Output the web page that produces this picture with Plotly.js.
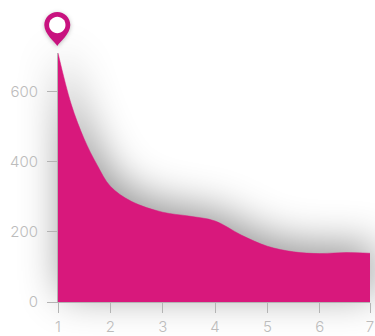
<!DOCTYPE html>
<html>
<head>
<meta charset="utf-8">
<script src="https://cdn.plot.ly/plotly-3.0.1.min.js"></script>
<style>html,body{margin:0;padding:0;background:#fff}#chart{width:375px;height:336px}</style>
</head>
<body>
<div id="chart"></div>
<script>
// Area curve samples
const steps = [1, 1.25, 1.5, 1.75, 2, 2.4, 3, 3.5, 4, 4.5, 5, 5.5, 6, 6.5, 6.96];
const amounts = [710, 565, 465, 390, 330, 287, 256, 245, 231, 191, 159, 143, 138, 141, 139];

const xTickVals = [1, 2, 3, 4, 5, 6, 6.96];
const xTickText = ['1', '2', '3', '4', '5', '6', '7'];
const yTickVals = [0, 200, 400, 600];

const PINK = '#d8187c';
const PIN = '#c8127f';
const GREY = '#b4b4b4';
const LABEL = '#bcbcbc';

const axisBase = {
  showgrid: false, zeroline: false, showline: true, linecolor: GREY, linewidth: 1,
  ticks: 'outside', ticklen: 10, tickwidth: 1, tickcolor: GREY,
  tickfont: {family: 'Inter, sans-serif', size: 15, color: LABEL, weight: 300}, tickmode: 'array'
};

// Teardrop outline and its round opening, in pixels from the top of the curve
const pinBody = 'M -0.7 7 C -3 11 -13.7 19 -13.7 28 C -13.7 35.18 -7.88 41 -0.7 41 C 6.48 41 12.3 35.18 12.3 28 C 12.3 19 1.6 11 -0.7 7 Z';
const pinHole = 'M -8.9 28 C -8.9 32.53 -5.23 36.2 -0.7 36.2 C 3.83 36.2 7.5 32.53 7.5 28 C 7.5 23.47 3.83 19.8 -0.7 19.8 C -5.23 19.8 -8.9 23.47 -8.9 28 Z';

const pinShape = (path, fill) => ({
  type: 'path', xref: 'paper', yref: 'paper', xsizemode: 'pixel', ysizemode: 'pixel',
  xanchor: 0, yanchor: 1, path, fillcolor: fill, line: {width: 0}
});

Plotly.newPlot('chart', [{
  x: steps, y: amounts, type: 'scatter', mode: 'lines', fill: 'tozeroy',
  fillcolor: PINK, line: {color: PINK, width: 0.5, shape: 'spline', smoothing: 1},
  cliponaxis: false, hoverinfo: 'skip'
}], {
  width: 375, height: 336, showlegend: false,
  margin: {l: 58, r: 4.5, t: 53, b: 34.3, pad: 0},
  paper_bgcolor: '#fff', plot_bgcolor: 'rgba(0,0,0,0)',
  xaxis: Object.assign({}, axisBase, {range: [1, 6.96], tickvals: xTickVals, ticktext: xTickText, ticklabelstandoff: 1}),
  yaxis: Object.assign({}, axisBase, {range: [0, 710], tickvals: yTickVals, ticktext: yTickVals.map(String), ticklabelstandoff: 6}),
  shapes: [pinShape(pinBody, PIN), pinShape(pinHole, '#fff')]
}, {displayModeBar: false, staticPlot: true}).then(gd => {
  gd.querySelectorAll('.scatterlayer .fills path').forEach(p => {
    p.style.filter = 'drop-shadow(4px -8px 20px rgba(0,0,0,0.42))';
    // let the soft edge spill past the plot area
    for (let el = p; el && el !== gd; el = el.parentNode) {
      if (el.removeAttribute) { el.removeAttribute('clip-path'); el.style.clipPath = 'none'; }
    }
  });
  const body = gd.querySelector('.shapelayer path');
  if (body) body.style.filter = 'drop-shadow(0 1px 2px rgba(0,0,0,0.25))';
});
</script>
</body>
</html>
